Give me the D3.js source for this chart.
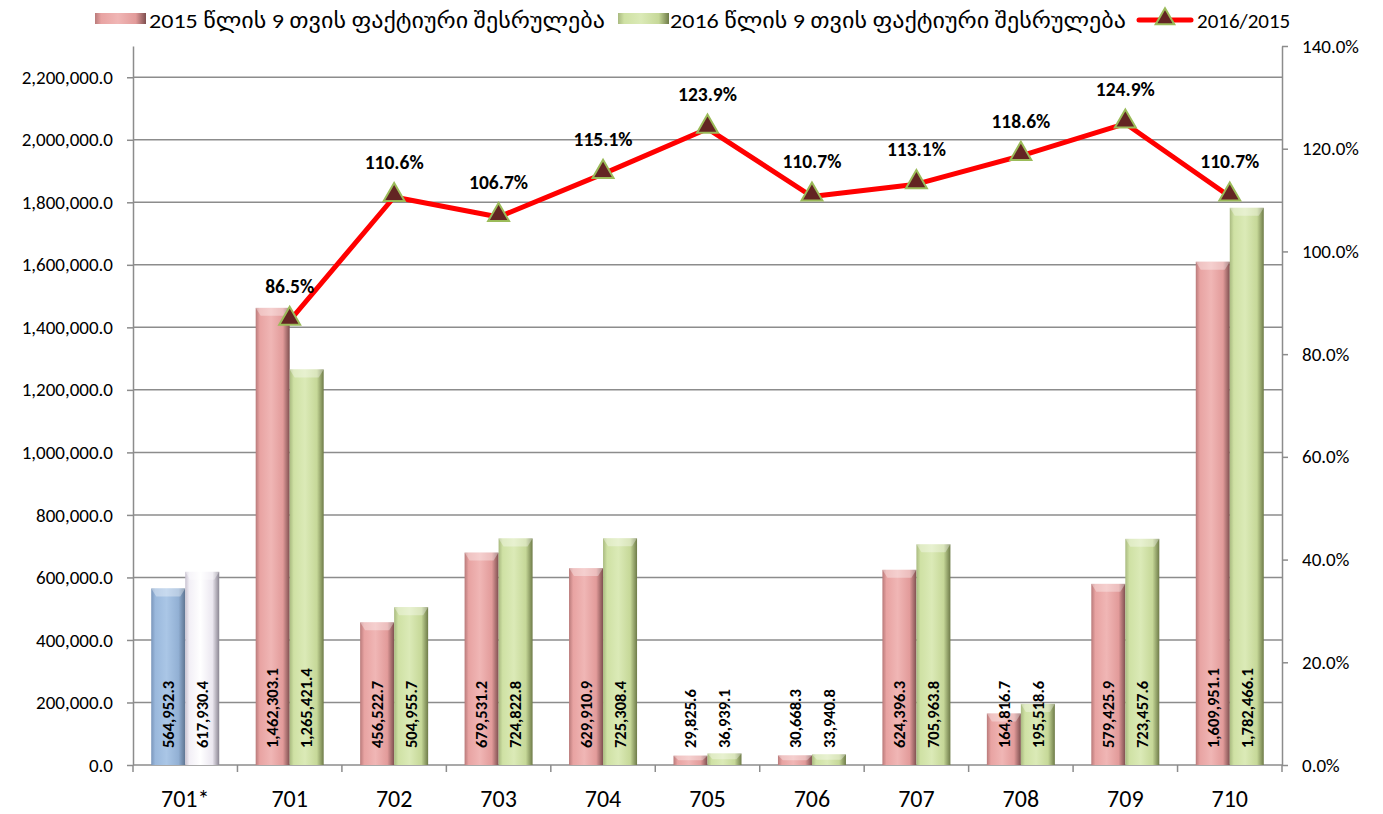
<!DOCTYPE html>
<html>
<head>
<meta charset="utf-8">
<script src="https://cdn.jsdelivr.net/npm/d3@7"></script>
<style>
  body { margin: 0; background: #fff; }
  svg text { font-family: Carlito, Lato, "DejaVu Sans", sans-serif; fill: #000; }
</style>
</head>
<body>
<div id="chart"></div>
<script>
const categories = ['701*', '701', '702', '703', '704', '705', '706', '707', '708', '709', '710'];
const values2015 = [564952.3, 1462303.1, 456522.7, 679531.2, 629910.9, 29825.6, 30668.3, 624396.3, 164816.7, 579425.9, 1609951.1];
const values2016 = [617930.4, 1265421.4, 504955.7, 724822.8, 725308.4, 36939.1, 33940.8, 705963.8, 195518.6, 723457.6, 1782466.1];
const ratios = [null, 0.865, 1.106, 1.067, 1.151, 1.239, 1.107, 1.131, 1.186, 1.249, 1.107];
const leftTicks = [0, 200000, 400000, 600000, 800000, 1000000, 1200000, 1400000, 1600000, 1800000, 2000000, 2200000];
const rightTicks = [0, 0.2, 0.4, 0.6, 0.8, 1.0, 1.2, 1.4];
const seriesNames = ['2015 წლის 9 თვის ფაქტიური შესრულება', '2016 წლის 9 თვის ფაქტიური შესრულება', '2016/2015'];

const width = 1383, height = 814;
const plot = { left: 133, right: 1282, top: 46, bottom: 765 };

const svg = d3.select('#chart').append('svg')
  .attr('width', width)
  .attr('height', height);

// gradients for the bevelled bars
const defs = svg.append('defs');
const palettes = {
  red: ['#b97a7a', '#e8a3a2', '#f0b6b5', '#e29b9a', '#7e4f4f'],
  green: ['#a9ba80', '#cfe1a4', '#dbeab7', '#c6d898', '#6e7b48'],
  blue: ['#7a96bb', '#9ab8dc', '#aac6e6', '#92b0d4', '#5d7491'],
  white: ['#c8c2d0', '#f2eff6', '#ffffff', '#ebe7f0', '#8a8592']
};
Object.entries(palettes).forEach(([name, c]) => {
  const g = defs.append('linearGradient').attr('id', 'grad-' + name)
    .attr('x1', 0).attr('x2', 1).attr('y1', 0).attr('y2', 0);
  [[0, c[0]], [0.12, c[1]], [0.45, c[2]], [0.8, c[3]], [1, c[4]]].forEach(([o, col]) => {
    g.append('stop').attr('offset', o).attr('stop-color', col);
  });
});

const x = d3.scaleBand().domain(categories).range([plot.left, plot.right]).padding(0);
const barW = 34;
const yL = d3.scaleLinear().domain([0, 2300000]).range([plot.bottom, plot.top]);
const yR = d3.scaleLinear().domain([0, 1.4]).range([plot.bottom, plot.top]);

// gridlines
svg.append('g')
  .selectAll('line')
  .data(leftTicks.slice(1))
  .enter()
  .append('line')
  .attr('x1', plot.left).attr('x2', plot.right)
  .attr('y1', d => yL(d)).attr('y2', d => yL(d))
  .style('stroke', '#8c8c8c')
  .style('stroke-width', 1.5);

// left axis
const gLeft = svg.append('g')
  .attr('transform', `translate(${plot.left},0)`)
  .call(d3.axisLeft(yL).tickValues(leftTicks).tickFormat(d3.format(',.1f')).tickSize(6).tickSizeOuter(0).tickPadding(14));
gLeft.selectAll('text').style('font-size', '19px');

// right axis
const gRight = svg.append('g')
  .attr('transform', `translate(${plot.right},0)`)
  .call(d3.axisRight(yR).tickValues(rightTicks).tickFormat(d3.format('.1%')).tickSize(6).tickSizeOuter(0).tickPadding(14));
gRight.selectAll('text').style('font-size', '19px');

[gLeft, gRight].forEach(g => {
  g.select('.domain').style('stroke', '#8c8c8c').style('stroke-width', 1.5);
  g.selectAll('.tick line').style('stroke', '#8c8c8c').style('stroke-width', 1.5);
});

// bottom axis: boundary ticks + labels
const gBottom = svg.append('g');
gBottom.append('line')
  .attr('x1', plot.left).attr('x2', plot.right)
  .attr('y1', plot.bottom).attr('y2', plot.bottom)
  .style('stroke', '#8c8c8c').style('stroke-width', 1.5);
gBottom.selectAll('.bt')
  .data(d3.range(categories.length + 1))
  .enter()
  .append('line')
  .attr('x1', i => plot.left + i * x.bandwidth())
  .attr('x2', i => plot.left + i * x.bandwidth())
  .attr('y1', plot.bottom).attr('y2', plot.bottom + 7)
  .style('stroke', '#8c8c8c').style('stroke-width', 1.5);
gBottom.selectAll('.cat')
  .data(categories)
  .enter()
  .append('text')
  .attr('x', d => x(d) + x.bandwidth() / 2)
  .attr('y', 807)
  .attr('text-anchor', 'middle')
  .style('font-size', '24px')
  .text(d => d);

// bars
const rows = categories.map((c, i) => ({ cat: c, i, v: [values2015[i], values2016[i]] }));
const bars = svg.append('g').attr('class', 'bars');
rows.forEach(r => {
  r.v.forEach((v, k) => {
    const cx = x(r.cat) + x.bandwidth() / 2;
    const bx = cx - barW + k * barW;
    const pal = r.i === 0 ? (k === 0 ? 'blue' : 'white') : (k === 0 ? 'red' : 'green');
    const top = yL(v);
    const h = plot.bottom - top;
    bars.append('rect')
      .attr('x', bx).attr('y', top)
      .attr('width', barW).attr('height', h)
      .style('fill', `url(#grad-${pal})`);
    // top bevel
    const cap = Math.min(8, h / 2);
    bars.append('path')
      .attr('d', `M${bx},${top} L${bx + barW},${top} L${bx + barW - 5},${top + cap} L${bx + 5},${top + cap} Z`)
      .style('fill', '#ffffff')
      .style('opacity', 0.35);
    bars.append('text')
      .attr('transform', `translate(${bx + barW / 2},748) rotate(-90)`)
      .attr('dy', '0.35em')
      .style('font-size', '16.5px')
      .style('font-weight', 'bold')
      .text(d3.format(',.1f')(v));
  });
});

// ratio line
const linePts = ratios.map((r, i) => ({ cat: categories[i], r })).filter(d => d.r !== null);
const line = d3.line()
  .x(d => x(d.cat) + x.bandwidth() / 2)
  .y(d => yR(d.r));
svg.append('path')
  .datum(linePts)
  .attr('d', line)
  .style('fill', 'none')
  .style('stroke', '#ff0000')
  .style('stroke-width', 5)
  .style('stroke-linejoin', 'round');

const tri = d3.symbol().type(d3.symbolTriangle).size(190);
svg.append('g')
  .selectAll('path')
  .data(linePts)
  .enter()
  .append('path')
  .attr('d', tri)
  .attr('transform', d => `translate(${x(d.cat) + x.bandwidth() / 2},${yR(d.r) - 2})`)
  .style('fill', '#632523')
  .style('stroke', '#9bbb59')
  .style('stroke-width', 2);

svg.append('g')
  .selectAll('text')
  .data(linePts)
  .enter()
  .append('text')
  .attr('x', d => x(d.cat) + x.bandwidth() / 2)
  .attr('y', d => yR(d.r) - 28)
  .attr('text-anchor', 'middle')
  .style('font-size', '19.5px')
  .style('font-weight', 'bold')
  .text(d => d3.format('.1%')(d.r));

// legend
const legend = svg.append('g');
const legItems = [
  { sw: 95, tx: 149, tw: 456, pal: 'red' },
  { sw: 618, tx: 670, tw: 456, pal: 'green' }
];
legItems.forEach((d, i) => {
  legend.append('rect')
    .attr('x', d.sw).attr('y', 13).attr('width', 51).attr('height', 11)
    .style('fill', `url(#grad-${d.pal})`);
  legend.append('text')
    .attr('x', d.tx).attr('y', 28)
    .attr('textLength', d.tw)
    .attr('lengthAdjust', 'spacingAndGlyphs')
    .style('font-size', '21px')
    .text(seriesNames[i]);
});
legend.append('line')
  .attr('x1', 1139).attr('x2', 1191).attr('y1', 20).attr('y2', 20)
  .style('stroke', '#ff0000').style('stroke-width', 5).style('stroke-linecap', 'round');
legend.append('path')
  .attr('d', d3.symbol().type(d3.symbolTriangle).size(150))
  .attr('transform', 'translate(1165,19)')
  .style('fill', '#632523').style('stroke', '#9bbb59').style('stroke-width', 2);
legend.append('text')
  .attr('x', 1197).attr('y', 28)
  .style('font-size', '21px')
  .text(seriesNames[2]);
</script>
</body>
</html>
